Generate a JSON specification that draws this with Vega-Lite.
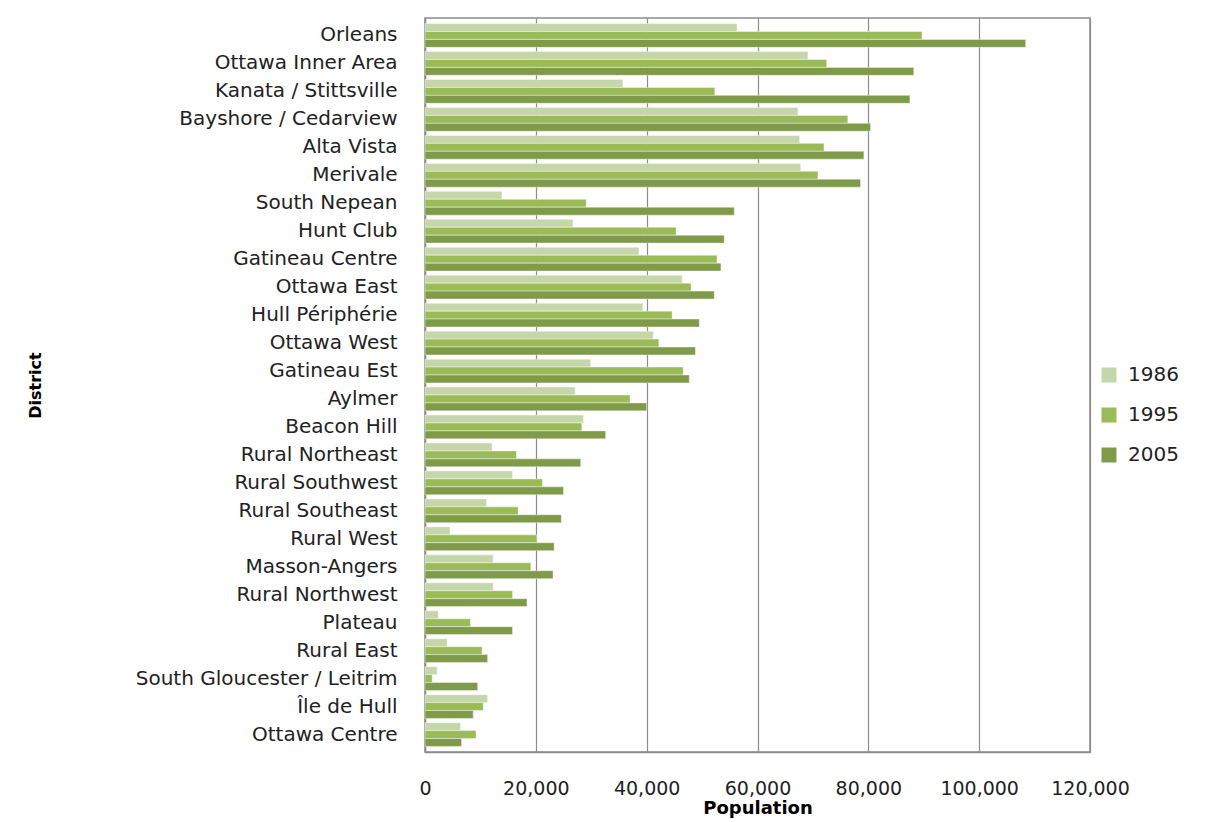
{
  "$schema": "https://vega.github.io/schema/vega-lite/v6.json",
  "width": 665,
  "height": 734,
  "autosize": {"type": "none"},
  "padding": {"left": 425, "top": 18, "right": 127, "bottom": 70},
  "background": "white",
  "data": {
    "values": [
      {"district": "Orleans", "year": "1986", "pop": 56300},
      {"district": "Orleans", "year": "1995", "pop": 89700},
      {"district": "Orleans", "year": "2005", "pop": 108400},
      {"district": "Ottawa Inner Area", "year": "1986", "pop": 69100},
      {"district": "Ottawa Inner Area", "year": "1995", "pop": 72500},
      {"district": "Ottawa Inner Area", "year": "2005", "pop": 88200},
      {"district": "Kanata / Stittsville", "year": "1986", "pop": 35700},
      {"district": "Kanata / Stittsville", "year": "1995", "pop": 52300},
      {"district": "Kanata / Stittsville", "year": "2005", "pop": 87500},
      {"district": "Bayshore / Cedarview", "year": "1986", "pop": 67300},
      {"district": "Bayshore / Cedarview", "year": "1995", "pop": 76300},
      {"district": "Bayshore / Cedarview", "year": "2005", "pop": 80400},
      {"district": "Alta Vista", "year": "1986", "pop": 67600},
      {"district": "Alta Vista", "year": "1995", "pop": 72000},
      {"district": "Alta Vista", "year": "2005", "pop": 79200},
      {"district": "Merivale", "year": "1986", "pop": 67800},
      {"district": "Merivale", "year": "1995", "pop": 70900},
      {"district": "Merivale", "year": "2005", "pop": 78600},
      {"district": "South Nepean", "year": "1986", "pop": 13900},
      {"district": "South Nepean", "year": "1995", "pop": 29100},
      {"district": "South Nepean", "year": "2005", "pop": 55800},
      {"district": "Hunt Club", "year": "1986", "pop": 26700},
      {"district": "Hunt Club", "year": "1995", "pop": 45300},
      {"district": "Hunt Club", "year": "2005", "pop": 54000},
      {"district": "Gatineau Centre", "year": "1986", "pop": 38600},
      {"district": "Gatineau Centre", "year": "1995", "pop": 52700},
      {"district": "Gatineau Centre", "year": "2005", "pop": 53400},
      {"district": "Ottawa East", "year": "1986", "pop": 46400},
      {"district": "Ottawa East", "year": "1995", "pop": 48000},
      {"district": "Ottawa East", "year": "2005", "pop": 52200},
      {"district": "Hull Périphérie", "year": "1986", "pop": 39300},
      {"district": "Hull Périphérie", "year": "1995", "pop": 44600},
      {"district": "Hull Périphérie", "year": "2005", "pop": 49500},
      {"district": "Ottawa West", "year": "1986", "pop": 41200},
      {"district": "Ottawa West", "year": "1995", "pop": 42200},
      {"district": "Ottawa West", "year": "2005", "pop": 48800},
      {"district": "Gatineau Est", "year": "1986", "pop": 29900},
      {"district": "Gatineau Est", "year": "1995", "pop": 46600},
      {"district": "Gatineau Est", "year": "2005", "pop": 47700},
      {"district": "Aylmer", "year": "1986", "pop": 27100},
      {"district": "Aylmer", "year": "1995", "pop": 37000},
      {"district": "Aylmer", "year": "2005", "pop": 40000},
      {"district": "Beacon Hill", "year": "1986", "pop": 28600},
      {"district": "Beacon Hill", "year": "1995", "pop": 28300},
      {"district": "Beacon Hill", "year": "2005", "pop": 32600},
      {"district": "Rural Northeast", "year": "1986", "pop": 12100},
      {"district": "Rural Northeast", "year": "1995", "pop": 16500},
      {"district": "Rural Northeast", "year": "2005", "pop": 28100},
      {"district": "Rural Southwest", "year": "1986", "pop": 15800},
      {"district": "Rural Southwest", "year": "1995", "pop": 21200},
      {"district": "Rural Southwest", "year": "2005", "pop": 25000},
      {"district": "Rural Southeast", "year": "1986", "pop": 11100},
      {"district": "Rural Southeast", "year": "1995", "pop": 16800},
      {"district": "Rural Southeast", "year": "2005", "pop": 24600},
      {"district": "Rural West", "year": "1986", "pop": 4500},
      {"district": "Rural West", "year": "1995", "pop": 20200},
      {"district": "Rural West", "year": "2005", "pop": 23300},
      {"district": "Masson-Angers", "year": "1986", "pop": 12300},
      {"district": "Masson-Angers", "year": "1995", "pop": 19100},
      {"district": "Masson-Angers", "year": "2005", "pop": 23100},
      {"district": "Rural Northwest", "year": "1986", "pop": 12300},
      {"district": "Rural Northwest", "year": "1995", "pop": 15800},
      {"district": "Rural Northwest", "year": "2005", "pop": 18400},
      {"district": "Plateau", "year": "1986", "pop": 2400},
      {"district": "Plateau", "year": "1995", "pop": 8200},
      {"district": "Plateau", "year": "2005", "pop": 15800},
      {"district": "Rural East", "year": "1986", "pop": 4000},
      {"district": "Rural East", "year": "1995", "pop": 10300},
      {"district": "Rural East", "year": "2005", "pop": 11300},
      {"district": "South Gloucester / Leitrim", "year": "1986", "pop": 2200},
      {"district": "South Gloucester / Leitrim", "year": "1995", "pop": 1300},
      {"district": "South Gloucester / Leitrim", "year": "2005", "pop": 9500},
      {"district": "Île de Hull", "year": "1986", "pop": 11300},
      {"district": "Île de Hull", "year": "1995", "pop": 10500},
      {"district": "Île de Hull", "year": "2005", "pop": 8700},
      {"district": "Ottawa Centre", "year": "1986", "pop": 6400},
      {"district": "Ottawa Centre", "year": "1995", "pop": 9200},
      {"district": "Ottawa Centre", "year": "2005", "pop": 6600}
    ]
  },
  "mark": {"type": "bar", "stroke": "white", "strokeWidth": 0.6, "strokeOpacity": 0.7},
  "encoding": {
    "y": {
      "field": "district",
      "type": "nominal",
      "sort": null,
      "scale": {"paddingInner": 0.15},
      "axis": {
        "title": "District",
        "titleFont": "DejaVu Sans",
        "titleFontSize": 16,
        "titleFontWeight": "bold",
        "titleColor": "black",
        "titleX": -382,
        "labelFont": "DejaVu Sans",
        "labelFontSize": 20,
        "labelColor": "#222",
        "labelPadding": 28,
        "labelLimit": 400,
        "ticks": false,
        "domainColor": "#8c8c8c",
        "domainWidth": 1.5
      }
    },
    "yOffset": {"field": "year", "type": "nominal", "sort": ["1986", "1995", "2005"]},
    "x": {
      "field": "pop",
      "type": "quantitative",
      "scale": {"domain": [0, 120000], "nice": false},
      "axis": {
        "title": "Population",
        "titleFont": "DejaVu Sans",
        "titleFontSize": 18,
        "titleFontWeight": "bold",
        "titleColor": "black",
        "titlePadding": 1,
        "labelFont": "DejaVu Sans",
        "labelFontSize": 19,
        "labelColor": "#222",
        "labelPadding": 27,
        "labelFlush": false,
        "labelOverlap": false,
        "format": ",d",
        "values": [0, 20000, 40000, 60000, 80000, 100000, 120000],
        "ticks": false,
        "grid": true,
        "gridColor": "#8c8c8c",
        "gridWidth": 1.2,
        "domainColor": "#8c8c8c",
        "domainWidth": 1.5
      }
    },
    "color": {
      "field": "year",
      "type": "nominal",
      "scale": {"domain": ["1986", "1995", "2005"], "range": ["#C5D6AB", "#9BBB59", "#7F9A48"]},
      "legend": {
        "title": null,
        "orient": "none",
        "legendX": 674,
        "legendY": 347,
        "symbolType": "square",
        "symbolSize": 225,
        "symbolStrokeWidth": 0,
        "labelFont": "DejaVu Sans",
        "labelFontSize": 20,
        "labelColor": "#222",
        "labelOffset": 9,
        "rowPadding": 20
      }
    }
  },
  "config": {
    "view": {"stroke": "#8c8c8c", "strokeWidth": 1.5}
  }
}
